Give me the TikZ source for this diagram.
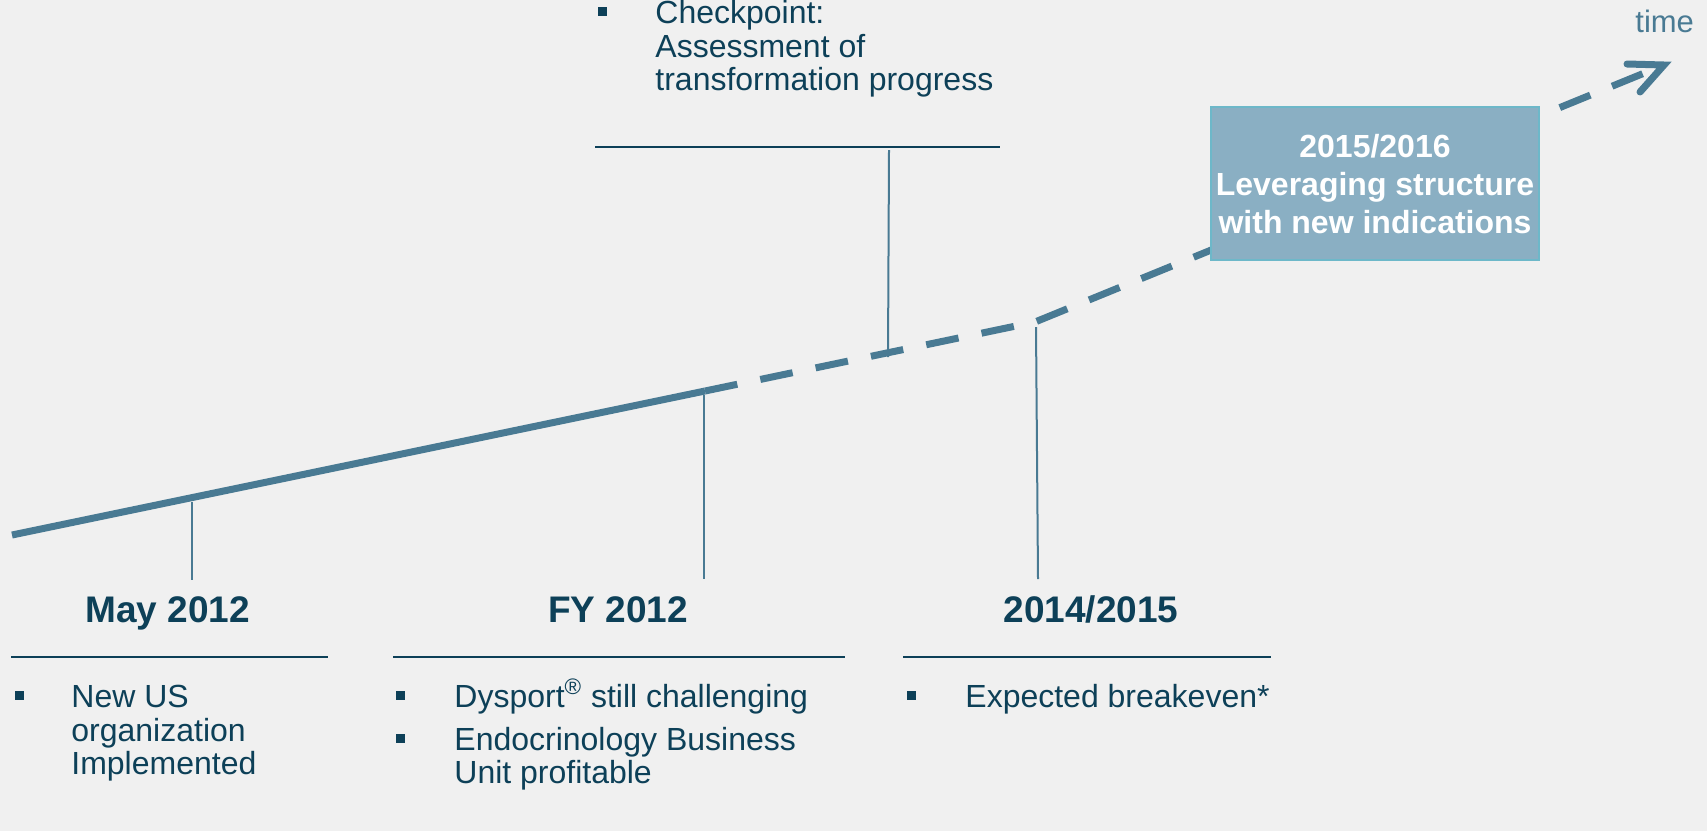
\documentclass[tikz,border=0pt]{standalone}
\usepackage{fontspec}
\setmainfont{Liberation Sans}
\definecolor{bg}{HTML}{F0F0F0}
\definecolor{ink}{HTML}{0D4058}
\definecolor{tl}{HTML}{497A93}
\definecolor{boxfill}{HTML}{8AAFC3}
\definecolor{boxedge}{HTML}{6DB8C9}
\begin{document}
\begin{tikzpicture}[x=0.5pt,y=-0.5pt,
  body/.style={font=\fontsize{16}{19}\selectfont, text=ink, inner sep=0pt, anchor=base west},
  head/.style={font=\fontsize{18.5}{22}\selectfont\bfseries, text=ink, inner sep=0pt, anchor=base},
  bul/.style={fill=ink, minimum size=4.5pt, inner sep=0pt},
  rule/.style={draw=ink, line width=1pt},
  tick/.style={draw=tl, line width=1pt},
  trend/.style={draw=tl, line width=3.5pt},
  future/.style={trend, dash pattern=on 16.5pt off 11.75pt},
  boxstyle/.style={draw=boxedge, fill=boxfill, line width=0.75pt, minimum width=164pt, minimum height=76.5pt, inner sep=0pt},
  boxtext/.style={text=white, font=\fontsize{16}{19}\selectfont\bfseries, inner sep=0pt, anchor=base},
]
\fill[bg] (0,0) rectangle (1707,831);
\useasboundingbox (0,0) rectangle (1707,831);

% trend line points
\coordinate (start) at (12,535);
\coordinate (fy) at (705,391);
\coordinate (cp) at (888,353);
\coordinate (be) at (1035,322);
\coordinate (tip) at (1664,65);
\coordinate (armA) at (1627,64);
\coordinate (armB) at (1640,92);

\draw[trend] (start) -- (fy);
\draw[future] (fy) -- (be) -- (tip);
\draw[trend, line cap=round] (armA) -- (tip) -- (armB);

% box
\node[boxstyle] (box) at (1375,183.5) {};
\node[boxtext] (bx1) at (1375,157) {2015/2016};
\node[boxtext] (bx2) at (1375,195) {Leveraging structure};
\node[boxtext] (bx3) at (1375,233) {with new indications};

% time label
\node[font=\fontsize{15.5}{19}\selectfont, text=tl, inner sep=0pt, anchor=base west] (time) at (1635,32) {time};

% checkpoint
\node[bul] (cpb) at (602,11) {};
\node[body] (cp1) at (655,23.5) {Checkpoint:};
\node[body] (cp2) at (655,57) {Assessment of};
\node[body] (cp3) at (655,90.5) {transformation progress};
\coordinate (cpl) at (595,147);
\coordinate (cpr) at (1000,147);
\draw[rule] (cpl) -- (cpr);
\coordinate (cptop) at (889,150);
\draw[tick] (cptop) -- (cp |- 0,357);

% ticks down to headings
\draw[tick] (192,502) coordinate (may0) -- (192,580) coordinate (may1);
\draw[tick] (704,395) coordinate (fy0) -- (704,579) coordinate (fy1);
\draw[tick] (1036,327) coordinate (be0) -- (1038,579) coordinate (be1);

% headings
\node[head] (h1) at (167.5,622) {May 2012};
\node[head] (h2) at (618,622) {FY 2012};
\node[head] (h3) at (1091,622) {2014/2015};

\coordinate (r1a) at (11,657);  \coordinate (r1b) at (328,657);
\coordinate (r2a) at (393,657); \coordinate (r2b) at (845,657);
\coordinate (r3a) at (903,657); \coordinate (r3b) at (1271,657);
\draw[rule] (r1a) -- (r1b);
\draw[rule] (r2a) -- (r2b);
\draw[rule] (r3a) -- (r3b);

% May 2012 bullets
\node[bul] (mb1) at (19,695) {};
\node[body] (m1) at (71,707) {New US};
\node[body] (m2) at (71,741) {organization};
\node[body] (m3) at (71,774) {Implemented};

% FY 2012 bullets
\node[bul] (fb1) at (400,695) {};
\node[body] (f1) at (454,707) {Dysport\textsuperscript{®} still challenging};
\node[bul] (fb2) at (400,738) {};
\node[body] (f2) at (454,750) {Endocrinology Business};
\node[body] (f3) at (454,783) {Unit profitable};

% 2014/2015 bullet
\node[bul] (bb1) at (911,695) {};
\node[body] (b1) at (965,707) {Expected breakeven*};
\end{tikzpicture}
\end{document}
